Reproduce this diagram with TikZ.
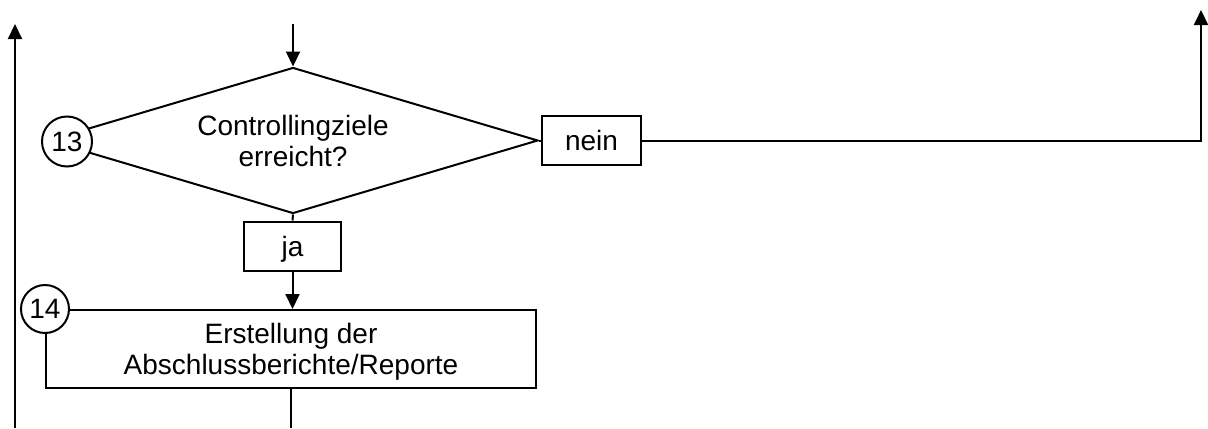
\documentclass[tikz,border=0pt]{standalone}
\usepackage{fontspec}
\setmainfont{Liberation Sans}
\usetikzlibrary{arrows.meta,positioning,shapes.geometric}

\begin{document}
\begin{tikzpicture}[x=0.5pt,y=-0.5pt,>={Triangle[width=7pt,length=7.5pt]},line width=1pt,
  every node/.style={font=\fontsize{14}{15.5}\selectfont},
  box/.style={draw,line width=1pt,inner sep=0pt,align=center,text depth=0pt},
  num/.style={draw,circle,fill=white,line width=1pt,minimum size=25pt,inner sep=0pt}]
  \useasboundingbox (0,0) rectangle (1208,428);
  \node[box,diamond,shape aspect=3.36,minimum width=245pt,minimum height=73pt] (Q) at (293,140.5) {Controllingziele\\erreicht?};
  \node[num] (N13) at (67,141.5) {13};
  \node[box,minimum width=49.5pt,minimum height=24.5pt] (nein) at (591.5,140.5) {nein};
  \node[box,minimum width=48.5pt,minimum height=24.5pt] (ja) at (292.5,246) {ja};
  \node[box,minimum width=245pt,minimum height=39pt] (R) at (291,349) {Erstellung der\\Abschlussberichte/Reporte};
  \node[num,minimum size=24pt] (N14) at (R.north west) {14};
  \coordinate (in) at (293,24);
  \coordinate (up) at (1201,10);
  \coordinate (lb) at (15,428);
  \coordinate (lt) at (15,24);
  \coordinate (out) at (291,428);
  \draw[->] (in) -- (Q.north);
  \draw (Q.east) -- (nein.west);
  \draw[->] (nein.east) -| (up);
  \draw (Q.south) -- (ja.north);
  \draw[->] (ja.south) -- (ja.south |- R.north);
  \draw (R.south) -- (out);
  \draw[->] (lb) -- (lt);
\end{tikzpicture}
\end{document}
